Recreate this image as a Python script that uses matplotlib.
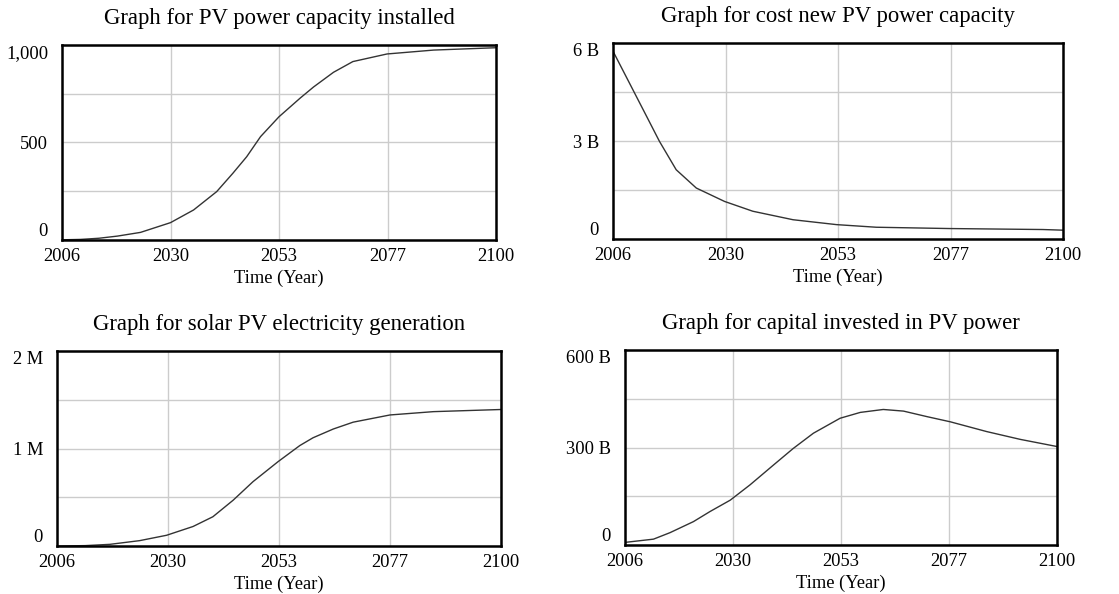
import numpy as np
import matplotlib.pyplot as plt

plt.rcParams['font.family'] = ['Liberation Serif', 'DejaVu Serif']

# data
years_cap = [2006, 2010, 2014, 2018, 2023, 2029.5, 2034.5, 2039.5, 2043, 2046, 2049, 2053,
             2057.6, 2060.5, 2064.8, 2069, 2076.4, 2086.5, 2100]
capacity = [1, 3, 9, 20, 39, 89, 154, 248, 342, 427, 530, 632,
            728, 785, 860, 915, 954, 974, 986]

years_cost = [2006, 2009.8, 2013, 2015.7, 2019.2, 2023.4, 2029.3, 2035.2, 2043.6, 2052.7,
              2061, 2076.3, 2095.8, 2100]
cost_b = [5.75, 4.67, 3.76, 2.99, 2.12, 1.56, 1.15, 0.85, 0.59, 0.44,
          0.36, 0.32, 0.29, 0.27]

years_gen = [2006, 2012, 2017.2, 2023.5, 2029.2, 2034.8, 2039, 2043.3, 2047.5, 2052.8,
             2057.4, 2060.2, 2064.5, 2068.7, 2076.5, 2085.7, 2100]
generation_m = [0.0, 0.004, 0.017, 0.055, 0.11, 0.2, 0.30, 0.47, 0.66, 0.865,
                1.03, 1.11, 1.2, 1.27, 1.344, 1.378, 1.40]

years_capital = [2006, 2012.2, 2015.8, 2020.9, 2024.5, 2028.9, 2033.2, 2038.3, 2042.6, 2047,
                 2052.8, 2057.2, 2062.2, 2066.6, 2071.7, 2076.8, 2084.7, 2092, 2100]
capital_b = [8, 18, 38, 72, 103, 138, 185, 246, 297, 344,
             390, 408, 417, 412, 395, 379, 349, 325, 303]

W, H = 1119, 594
fig = plt.figure(figsize=(W / 100, H / 100), dpi=100)

xticks = np.linspace(2006, 2100, 5)
xlabels = ['2006', '2030', '2053', '2077', '2100']


def panel(box, x, y, ymax, ylabels, title):
    l, t, r, b = box
    ax = fig.add_axes([l / W, 1 - b / H, (r - l) / W, (b - t) / H])
    ax.plot(x, y, color='#333333', lw=1.0)
    ax.set_xlim(2006, 2100)
    ax.set_ylim(0, ymax)
    ax.set_xticks(xticks)
    ax.set_xticklabels(xlabels, fontsize=13.3)
    ax.set_yticks(np.linspace(0, ymax, 5))
    ax.set_yticklabels(ylabels, fontsize=13.3)
    tl = ax.get_yticklabels()
    tl[0].set_va('bottom')
    tl[-1].set_va('top')
    ax.tick_params(length=0, pad=6)
    ax.tick_params(axis='y', pad=10)
    ax.grid(True, color='#cccccc', lw=1)
    for s in ax.spines.values():
        s.set_linewidth(1.8)
        s.set_color('black')
    ax.set_xlabel('Time (Year)', fontsize=13.3, labelpad=3)
    ax.set_title(title, fontsize=16.4, pad=15)
    return ax


panel((62, 45, 496, 240), years_cap, capacity, 1000,
      ['0', '', '500', '', '1,000'], 'Graph for PV power capacity installed')
panel((613, 43, 1063, 239), years_cost, cost_b, 6,
      ['0', '', '3 B', '', '6 B'], 'Graph for cost new PV power capacity')
panel((57, 351, 501, 546), years_gen, generation_m, 2,
      ['0', '', '1 M', '', '2 M'], 'Graph for solar PV electricity generation')
panel((625, 350, 1057, 545), years_capital, capital_b, 600,
      ['0', '', '300 B', '', '600 B'], 'Graph for capital invested in PV power')

fig.savefig('out.png', dpi=100)
